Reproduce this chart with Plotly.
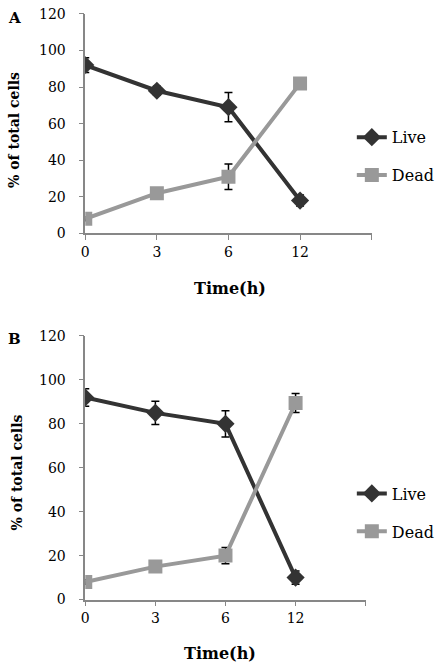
import plotly.graph_objects as go

W, H = 443, 671

time_labels = ["0", "3", "6", "12"]
x_idx = [0, 1, 2, 3]

# Panel A
a_live = [92, 78, 69, 18]
a_live_err = [4, 2.5, 8, 3]
a_dead = [8, 22, 31, 82]
a_dead_err = [1, 1.5, 7, 1.5]

# Panel B
b_live = [92, 85, 80, 10]
b_live_err = [4, 5.3, 6, 3]
b_dead = [8, 15, 20, 89.5]
b_dead_err = [1, 1.5, 3.7, 4.3]

LIVE_C = "#333333"
DEAD_C = "#999999"
AX_C = "#878787"
FONT = "DejaVu Serif"

fig = go.Figure()

def add_pair(live, live_err, dead, dead_err, xa, ya, legend):
    fig.add_trace(go.Scatter(
        x=x_idx, y=live, mode="lines+markers", name="Live",
        line=dict(color=LIVE_C, width=4),
        marker=dict(symbol="diamond", size=14, color=LIVE_C),
        error_y=dict(type="data", array=live_err, color="black", thickness=1.5, width=4),
        xaxis=xa, yaxis=ya, legend=legend, legendgroup=legend + "live"))
    fig.add_trace(go.Scatter(
        x=x_idx, y=dead, mode="lines+markers", name="Dead",
        line=dict(color=DEAD_C, width=4),
        marker=dict(symbol="square", size=14, color=DEAD_C),
        error_y=dict(type="data", array=dead_err, color="black", thickness=1.5, width=4),
        xaxis=xa, yaxis=ya, legend=legend, legendgroup=legend + "dead"))

add_pair(a_live, a_live_err, a_dead, a_dead_err, "x", "y", "legend")
add_pair(b_live, b_live_err, b_dead, b_dead_err, "x2", "y2", "legend2")

def px_x(p):
    return p / W

def px_y(p):
    return 1 - p / H

xcommon = dict(range=[0, 4], tickvals=[0, 1, 2, 3, 4], ticktext=time_labels + [""],
               showline=True, linecolor=AX_C, linewidth=1.5, ticks="outside",
               ticklen=5, tickcolor=AX_C, showgrid=False, zeroline=False,
               tickfont=dict(family=FONT, size=14, color="black"), fixedrange=True)
ycommon = dict(range=[0, 120], dtick=20, showline=True, linecolor=AX_C, linewidth=1.5,
               ticks="outside", ticklen=5, tickcolor=AX_C, showgrid=False, zeroline=False,
               tickfont=dict(family=FONT, size=14, color="black"), fixedrange=True,
               ticklabelstandoff=10)

fig.update_layout(
    width=W, height=H,
    margin=dict(l=0, r=0, t=0, b=0),
    paper_bgcolor="white", plot_bgcolor="white",
    xaxis=dict(domain=[px_x(82), px_x(371)], anchor="y", **xcommon),
    yaxis=dict(domain=[px_y(231), px_y(6)], anchor="x", **ycommon),
    xaxis2=dict(domain=[px_x(82), px_x(365)], anchor="y2", **xcommon),
    yaxis2=dict(domain=[px_y(606), px_y(336)], anchor="x2", **ycommon),
    legend=dict(x=px_x(351), y=px_y(115), xanchor="left", yanchor="top",
                font=dict(family=FONT, size=16, color="black"),
                bgcolor="rgba(0,0,0,0)", tracegroupgap=14),
    legend2=dict(x=px_x(351), y=px_y(480), xanchor="left", yanchor="top",
                 font=dict(family=FONT, size=16, color="black"),
                 bgcolor="rgba(0,0,0,0)", tracegroupgap=14),
    showlegend=True,
)

ann_font = dict(family=FONT, size=14, color="black")
fig.add_annotation(text="<b>A</b>", x=px_x(2), y=px_y(10), xref="paper", yref="paper",
                   xanchor="left", yanchor="middle", showarrow=False,
                   font=dict(family=FONT, size=15, color="black"))
fig.add_annotation(text="<b>B</b>", x=px_x(2), y=px_y(339), xref="paper", yref="paper",
                   xanchor="left", yanchor="middle", showarrow=False,
                   font=dict(family=FONT, size=15, color="black"))
fig.add_annotation(text="<b>% of total cells</b>", x=px_x(10), y=px_y(125), xref="paper",
                   yref="paper", textangle=-90, showarrow=False, xanchor="center",
                   yanchor="middle", font=ann_font)
fig.add_annotation(text="<b>% of total cells</b>", x=px_x(13), y=px_y(476), xref="paper",
                   yref="paper", textangle=-90, showarrow=False, xanchor="center",
                   yanchor="middle", font=ann_font)
fig.add_annotation(text="<b>Time(h)</b>", x=px_x(228), y=px_y(287), xref="paper",
                   yref="paper", showarrow=False, xanchor="center", yanchor="middle",
                   font=dict(family=FONT, size=16, color="black"))
fig.add_annotation(text="<b>Time(h)</b>", x=px_x(218), y=px_y(661), xref="paper",
                   yref="paper", showarrow=False, xanchor="center", yanchor="middle",
                   font=dict(family=FONT, size=16, color="black"))

fig.write_html("out.html", config={"displayModeBar": False},
               post_script="document.body.style.margin='0px';")
